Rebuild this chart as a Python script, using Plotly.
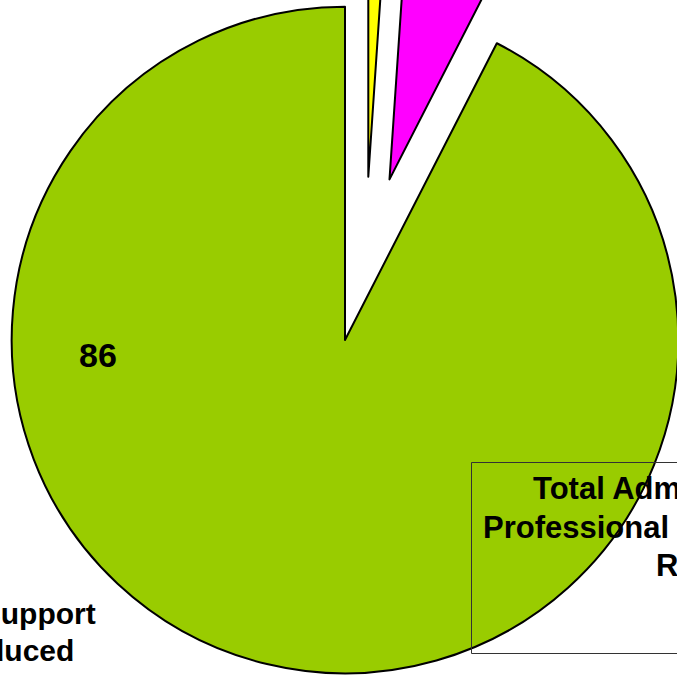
import plotly.graph_objects as go

# ---- data ----
categories = ["Clerical Support Reduced", "Total Support Reduced",
              "Total Administrative and Professional Support Staff Reduced"]
values = [1, 6, 86]
slice_colors = ["#FFFF00", "#FF00FF", "#99CC00"]
value_label = "86"
right_label_lines = ["Total Administrative and", "Professional Support Staff", "Reduced"]
left_label_lines = ["Total Support", "Costs Reduced"]

# ---- geometry of the (cropped) view ----
FIG = 1000            # big canvas, then shifted so the crop matches the reference
SHIFT_X, SHIFT_Y = 155, 160


def px(vx):
    return (vx + SHIFT_X) / FIG


def py(vy):
    return 1 - (vy + SHIFT_Y) / FIG


clear = "rgba(0,0,0,0)"
fig = go.Figure()

# main pie: green slice plus exploded magenta slice
fig.add_trace(go.Pie(
    labels=categories, values=values, sort=False, direction="clockwise", rotation=0,
    marker=dict(colors=[clear, slice_colors[1], slice_colors[2]],
                line=dict(color="black", width=[0, 2, 2])),
    pull=[0, 0.5, 0], textinfo="none", hoverinfo="label+value",
    showlegend=False, domain=dict(x=[0, 1], y=[0, 1]),
))

# exploded yellow sliver
yc_x, yc_y, r = 368.3, 176.7, 333.3
fig.add_trace(go.Pie(
    labels=categories, values=values, sort=False, direction="clockwise", rotation=0,
    marker=dict(colors=[slice_colors[0], clear, clear],
                line=dict(color="black", width=[2, 0, 0])),
    textinfo="none", hoverinfo="label+value", showlegend=False,
    domain=dict(x=[px(yc_x - r), px(yc_x + r)], y=[py(yc_y + r), py(yc_y - r)]),
))

font = dict(family="Liberation Sans, Arial, sans-serif", size=31, color="black")
ann = []
ann.append(dict(text="<b>%s</b>" % value_label, x=px(97.5), y=py(354.5), xref="paper", yref="paper",
                xanchor="center", yanchor="middle", showarrow=False,
                font=dict(font, size=34), borderpad=0, borderwidth=0))
for t, vx, vy in zip(right_label_lines, [533, 483, 656], [488, 527, 565]):
    ann.append(dict(text="<b>%s</b>" % t, x=px(vx), y=py(vy), xref="paper", yref="paper",
                    xanchor="left", yanchor="middle", showarrow=False, font=font,
                    borderpad=0, borderwidth=0))
for t, vx, vy in zip(left_label_lines, [96, 74], [613, 650]):
    ann.append(dict(text="<b>%s</b>" % t, x=px(vx), y=py(vy), xref="paper", yref="paper",
                    xanchor="right", yanchor="middle", showarrow=False,
                    font=dict(font, size=30), borderpad=0, borderwidth=0))

fig.update_layout(
    width=FIG, height=FIG, margin=dict(l=0, r=0, t=0, b=0),
    paper_bgcolor="white", plot_bgcolor="white",
    annotations=ann,
    shapes=[dict(type="rect", xref="paper", yref="paper", layer="above",
                 x0=px(471.5), x1=px(900), y0=py(653.5), y1=py(462.5),
                 line=dict(color="#333333", width=1))],
)

post = ("var d=document.getElementById('{plot_id}');"
        "d.style.position='absolute';d.style.left='-%dpx';d.style.top='-%dpx';"
        "document.documentElement.style.overflow='hidden';"
        "document.body.style.overflow='hidden';" % (SHIFT_X, SHIFT_Y))

fig.write_html("out.html", config=dict(displayModeBar=False), post_script=post)
